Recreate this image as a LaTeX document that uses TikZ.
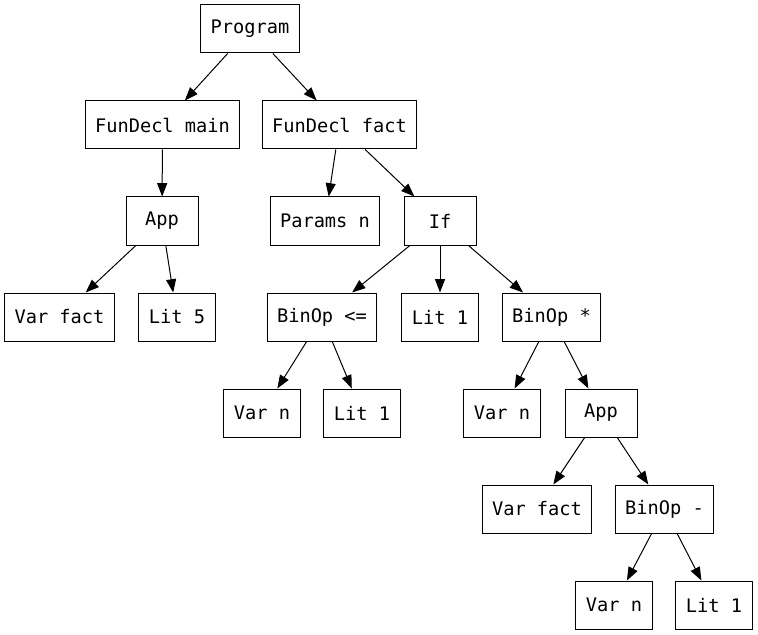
\documentclass[tikz,border=0pt]{standalone}
\usepackage{fontspec}
\setmonofont{DejaVu Sans Mono}
\usetikzlibrary{arrows.meta}
\begin{document}
\begin{tikzpicture}[x=0.75pt,y=-0.75pt,>={Triangle[length=10pt,width=7.5pt]},
  ast/.style={draw,line width=0.75pt,minimum width=54pt,minimum height=36pt,inner xsep=7.5pt,
    font=\ttfamily\fontsize{14pt}{16pt}\selectfont}]
\useasboundingbox (0,0) rectangle (758,635);
% cac nut cua cay
\node[ast] (prog) at (250,29) {Program};
\node[ast] (fmain) at (162.5,125) {FunDecl main};
\node[ast] (ffact) at (339.5,125) {FunDecl fact};
\node[ast] (appa) at (162,221) {App};
\node[ast] (params) at (325,221) {Params n};
\node[ast] (iff) at (440,221) {If};
\node[ast] (vfacta) at (59.5,317) {Var fact};
\node[ast] (litfive) at (177,317) {Lit 5};
\node[ast] (binle) at (322,317) {BinOp <=};
\node[ast] (lita) at (440,317) {Lit 1};
\node[ast] (binmul) at (551.5,317) {BinOp *};
\node[ast] (varna) at (262,413) {Var n};
\node[ast] (litb) at (362,413) {Lit 1};
\node[ast] (varnb) at (502,413) {Var n};
\node[ast] (appb) at (601,413) {App};
\node[ast] (vfactb) at (537,509) {Var fact};
\node[ast] (binsub) at (664.5,509) {BinOp -};
\node[ast] (varnc) at (614,605) {Var n};
\node[ast] (litc) at (714,605) {Lit 1};
% cac canh
\foreach \a/\b in {prog/fmain,prog/ffact,fmain/appa,appa/vfacta,appa/litfive,
  ffact/params,ffact/iff,iff/binle,iff/lita,iff/binmul,binle/varna,binle/litb,
  binmul/varnb,binmul/appb,appb/vfactb,appb/binsub,binsub/varnc,binsub/litc}
\draw[->,line width=0.75pt] (\a)--(\b);
\end{tikzpicture}
\end{document}
